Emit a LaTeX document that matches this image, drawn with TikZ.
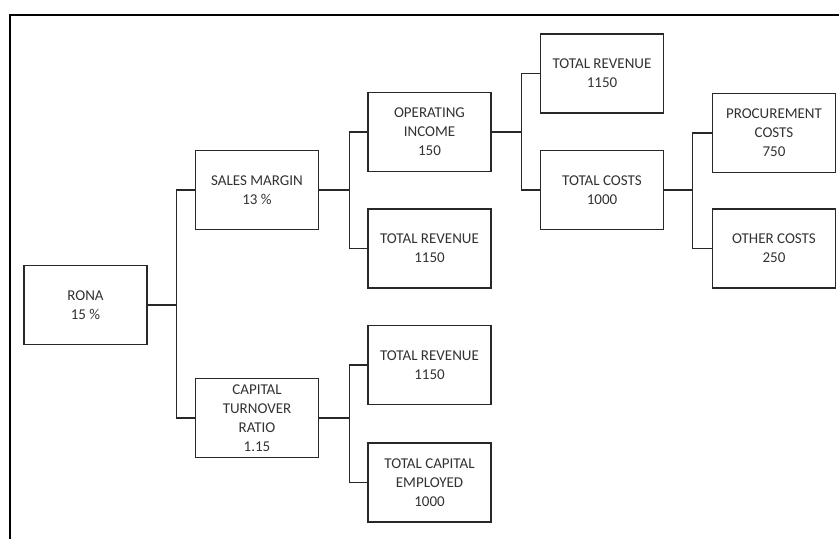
\documentclass[tikz,border=0pt]{standalone}
\usepackage{fontspec}
\setmainfont{Carlito}
\definecolor{txt}{RGB}{50,50,50}
\definecolor{ln}{RGB}{40,40,40}
\begin{document}
\begin{tikzpicture}[x=1pt,y=-1pt,
  box/.style={draw=ln,line width=1.4pt,minimum width=123pt,minimum height=79pt,inner sep=0pt,align=center,text=txt,font=\fontsize{15}{19}\selectfont},
  conn/.style={draw=ln,line width=1.3pt}]
\useasboundingbox (0,0) rectangle (839,539);
\draw[line width=2pt,black] (10,539) -- (10,15) -- (839,15);
\node[box] (rona) at (85.5,305) {RONA\\15 \%};
\node[box] (sm) at (257,190) {SALES MARGIN\\13 \%};
\node[box] (ctr) at (257,418) {CAPITAL\\TURNOVER\\RATIO\\1.15};
\node[box] (oi) at (429.5,132) {OPERATING\\INCOME\\150};
\node[box] (tr1) at (429.5,248.5) {TOTAL REVENUE\\1150};
\node[box] (tr2) at (429.5,365) {TOTAL REVENUE\\1150};
\node[box] (tce) at (429.5,482.5) {TOTAL CAPITAL\\EMPLOYED\\1000};
\node[box] (trt) at (602,73.5) {TOTAL REVENUE\\1150};
\node[box] (tc) at (602,190) {TOTAL COSTS\\1000};
\node[box] (pc) at (774,133) {PROCUREMENT\\COSTS\\750};
\node[box] (oc) at (774,248.5) {OTHER COSTS\\250};
\draw[conn] (sm.west) -- ++(-18,0) |- (rona.east);
\draw[conn] (ctr.west) -- ++(-18,0) |- (rona.east);
\draw[conn] (oi.west) -- ++(-18,0) |- (sm.east);
\draw[conn] (tr1.west) -- ++(-18,0) |- (sm.east);
\draw[conn] (tr2.west) -- ++(-18,0) |- (ctr.east);
\draw[conn] (tce.west) -- ++(-18,0) |- (ctr.east);
\draw[conn] (trt.west) -- ++(-18,0) |- (oi.east);
\draw[conn] (tc.west) -- ++(-18,0) |- (oi.east);
\draw[conn] (pc.west) -- ++(-19,0) |- (tc.east);
\draw[conn] (oc.west) -- ++(-19,0) |- (tc.east);
\end{tikzpicture}
\end{document}
